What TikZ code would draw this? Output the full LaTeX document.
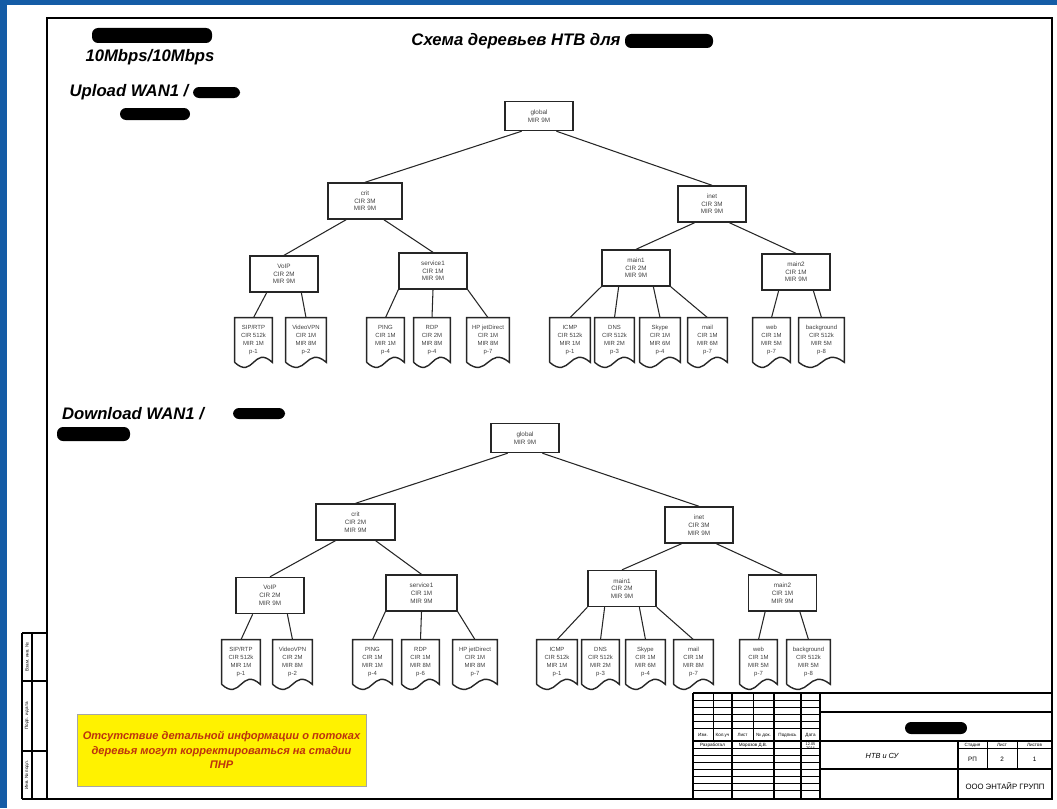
\documentclass[tikz,border=0pt]{standalone}
\usepackage{fontspec}
\setmainfont{Liberation Sans}
\usetikzlibrary{calc}
\definecolor{frameblue}{rgb}{0.08,0.36,0.65}
\definecolor{notered}{rgb}{0.74,0.2,0.05}

\newcommand{\leafshape}[1]{\draw[box] (#1.south west) -- (#1.north west) -- (#1.north east) -- (#1.south east)
  .. controls ($(#1.south)+(0,10pt)$) and ($(#1.south)+(0,-10pt)$) .. (#1.south west);}

\begin{document}
\begin{tikzpicture}[x=0.2mm, y=-0.2mm,
    box/.style={draw=black!85, line width=0.8pt},
    queue/.style={box, rectangle, minimum width=13.6mm, minimum height=7.2mm, inner sep=0.5pt, align=center, text=black!75, font=\fontsize{3.6}{4.4}\selectfont},
    leaf/.style={rectangle, minimum width=7.6mm, minimum height=8.8mm, inner sep=0.5pt, align=center, text=black!75, font=\fontsize{3.4}{4.4}\selectfont},
    link/.style={draw=black!85, line width=0.6pt},
    head/.style={font=\fontsize{9.5}{11}\selectfont\bfseries\itshape},
    blot/.style={fill=black, rounded corners=1.2mm},
    stamp/.style={font=\fontsize{2.6}{3}\selectfont, inner sep=0pt},
    fine/.style={line width=0.4pt},
    heavy/.style={line width=0.9pt}
]
    \useasboundingbox (0,0) rectangle (1057,808);
    \fill[frameblue] (0,0) rectangle (1057,5);
    \fill[frameblue] (0,0) rectangle (7,808);
    \draw[heavy] (47,18) rectangle (1052,799);

    % headings
    \node[head] (speed) at (150,57) {10Mbps/10Mbps};
    \node[head] (title) at (516,41) {Схема деревьев НТВ для};
    \node[head] (upload) at (129,92) {Upload WAN1 /};
    \node[head] (download) at (133,414) {Download WAN1 /};
    \fill[blot] (92,28) rectangle (212,43);
    \fill[blot] (625,34) rectangle (713,48);
    \fill[blot] (193,87) rectangle (240,98);
    \fill[blot] (120,108) rectangle (190,120);
    \fill[blot] (233,408) rectangle (285,419);
    \fill[blot] (57,427) rectangle (130,441);

    % upload tree
    \node[queue, minimum height=5.8mm] (uglobal) at (539,116) {global\\MIR 9M};
    \node[queue, minimum width=14.8mm] (ucrit) at (365,201) {crit\\CIR 3M\\MIR 9M};
    \node[queue] (uinet) at (712,204) {inet\\CIR 3M\\MIR 9M};
    \node[queue] (uvoip) at (284,274) {VoIP\\CIR 2M\\MIR 9M};
    \node[queue] (userv) at (433,271) {service1\\CIR 1M\\MIR 9M};
    \node[queue] (umain1) at (636,268) {main1\\CIR 2M\\MIR 9M};
    \node[queue] (umain2) at (796,272) {main2\\CIR 1M\\MIR 9M};
    \node[leaf, minimum width=7.4mm] (usip) at (253.5,340) {SIP/RTP\\CIR 512k\\MIR 1M\\p-1};
    \node[leaf, minimum width=8mm] (uvideo) at (306,340) {VideoVPN\\CIR 1M\\MIR 8M\\p-2};
    \node[leaf, minimum width=7.4mm] (uping) at (385.5,340) {PING\\CIR 1M\\MIR 1M\\p-4};
    \node[leaf, minimum width=7.2mm] (urdp) at (432,340) {RDP\\CIR 2M\\MIR 8M\\p-4};
    \node[leaf, minimum width=8.4mm] (uhp) at (488,340) {HP jetDirect\\CIR 1M\\MIR 8M\\p-7};
    \node[leaf, minimum width=8mm] (uicmp) at (570,340) {ICMP\\CIR 512k\\MIR 1M\\p-1};
    \node[leaf, minimum width=7.8mm] (udns) at (614.5,340) {DNS\\CIR 512k\\MIR 2M\\p-3};
    \node[leaf, minimum width=8mm] (uskype) at (660,340) {Skype\\CIR 1M\\MIR 6M\\p-4};
    \node[leaf, minimum width=7.8mm] (umail) at (707.5,340) {mail\\CIR 1M\\MIR 6M\\p-7};
    \node[leaf, minimum width=7.4mm] (uweb) at (771.5,340) {web\\CIR 1M\\MIR 5M\\p-7};
    \node[leaf, minimum width=9mm] (ubg) at (821.5,340) {background\\CIR 512k\\MIR 5M\\p-8};

    \foreach \p/\f/\c in {uglobal/.25/ucrit, uglobal/.75/uinet, ucrit/.25/uvoip, ucrit/.75/userv,
        uinet/.25/umain1, uinet/.75/umain2, uvoip/.25/usip, uvoip/.75/uvideo, userv/0/uping,
        userv/.5/urdp, userv/1/uhp, umain1/0/uicmp, umain1/.25/udns, umain1/.75/uskype,
        umain1/1/umail, umain2/.25/uweb, umain2/.75/ubg}
        \draw[link] ($(\p.south west)!\f!(\p.south east)$) -- (\c.north);

    % download tree
    \node[queue, minimum height=5.8mm] (dglobal) at (525,438) {global\\MIR 9M};
    \node[queue, minimum width=15.8mm] (dcrit) at (355.5,522) {crit\\CIR 2M\\MIR 9M};
    \node[queue] (dinet) at (699,525) {inet\\CIR 3M\\MIR 9M};
    \node[queue] (dvoip) at (270,595.5) {VoIP\\CIR 2M\\MIR 9M};
    \node[queue, minimum width=14.2mm] (dserv) at (421.5,593) {service1\\CIR 1M\\MIR 9M};
    \node[queue] (dmain1) at (622,588.5) {main1\\CIR 2M\\MIR 9M};
    \node[queue] (dmain2) at (782.5,593) {main2\\CIR 1M\\MIR 9M};
    \node[leaf] (dsip) at (241,662) {SIP/RTP\\CIR 512k\\MIR 1M\\p-1};
    \node[leaf, minimum width=7.8mm] (dvideo) at (292.5,662) {VideoVPN\\CIR 2M\\MIR 8M\\p-2};
    \node[leaf, minimum width=7.8mm] (dping) at (372.5,662) {PING\\CIR 1M\\MIR 1M\\p-4};
    \node[leaf, minimum width=7.4mm] (drdp) at (420.5,662) {RDP\\CIR 1M\\MIR 8M\\p-6};
    \node[leaf, minimum width=8.8mm] (dhp) at (475,662) {HP jetDirect\\CIR 1M\\MIR 8M\\p-7};
    \node[leaf, minimum width=8mm] (dicmp) at (557,662) {ICMP\\CIR 512k\\MIR 1M\\p-1};
    \node[leaf, minimum width=7.4mm] (ddns) at (600.5,662) {DNS\\CIR 512k\\MIR 2M\\p-3};
    \node[leaf, minimum width=7.8mm] (dskype) at (645.5,662) {Skype\\CIR 1M\\MIR 6M\\p-4};
    \node[leaf, minimum width=7.8mm] (dmail) at (693.5,662) {mail\\CIR 1M\\MIR 8M\\p-7};
    \node[leaf, minimum width=7.4mm] (dweb) at (758.5,662) {web\\CIR 1M\\MIR 5M\\p-7};
    \node[leaf, minimum width=8.6mm] (dbg) at (808.5,662) {background\\CIR 512k\\MIR 5M\\p-8};

    \foreach \p/\f/\c in {dglobal/.25/dcrit, dglobal/.75/dinet, dcrit/.25/dvoip, dcrit/.75/dserv,
        dinet/.25/dmain1, dinet/.75/dmain2, dvoip/.25/dsip, dvoip/.75/dvideo, dserv/0/dping,
        dserv/.5/drdp, dserv/1/dhp, dmain1/0/dicmp, dmain1/.25/ddns, dmain1/.75/dskype,
        dmain1/1/dmail, dmain2/.25/dweb, dmain2/.75/dbg}
        \draw[link] ($(\p.south west)!\f!(\p.south east)$) -- (\c.north);

    \foreach \n in {usip, uvideo, uping, urdp, uhp, uicmp, udns, uskype, umail, uweb, ubg,
        dsip, dvideo, dping, drdp, dhp, dicmp, ddns, dskype, dmail, dweb, dbg} {\leafshape{\n}}

    % note
    \node[draw=black!35, fill=yellow, minimum width=56.6mm, minimum height=14.4mm, align=center, text=notered,
        font=\fontsize{6.3}{8.2}\selectfont\bfseries\itshape] (note) at (221.5,750)
        {Отсутствие детальной информации о потоках\\деревья могут корректироваться на стадии\\ПНР};

    % side strip
    \draw[heavy] (22,633) -- (47,633) (22,681) -- (47,681) (22,751) -- (47,751) (22,799) -- (47,799)
        (22,633) -- (22,799) (32,633) -- (32,799);
    \node[stamp, rotate=90] (sswap) at (27,657) {Взам. инв. №};
    \node[stamp, rotate=90] (ssign) at (27,716) {Подп. и дата};
    \node[stamp, rotate=90] (sinv) at (27,775) {Инв. № подл.};

    % title block
    \draw[heavy] (693,693) -- (1052,693) (693,693) -- (693,799) (693,741) -- (1052,741)
        (820,693) -- (820,799) (820,712) -- (1052,712) (820,769) -- (1052,769) (958,741) -- (958,799)
        (732,693) -- (732,799) (774,693) -- (774,799) (801,693) -- (801,799);
    \draw[fine] (713,693) -- (713,741) (753,693) -- (753,741) (987,741) -- (987,769) (1017,741) -- (1017,769)
        (958,748) -- (1052,748);
    \foreach \y in {700,707,714,721,728,748,755,762,769,776,783,790}
        \draw[fine] (693,\y) -- (820,\y);
    \fill[blot] (905,722) rectangle (967,734);
    \node[stamp] (tizm) at (703,735) {Изм.};
    \node[stamp] (tkol) at (722.5,735) {Кол.уч};
    \node[stamp] (tlist) at (742.5,735) {Лист};
    \node[stamp] (tdoc) at (763.5,735) {№ док.};
    \node[stamp] (tsign) at (787.5,735) {Подпись};
    \node[stamp] (tdate) at (810.5,735) {Дата};
    \node[stamp] (tdev) at (712.5,745) {Разработал};
    \node[stamp] (tname) at (753,745) {Морозов Д.В.};
    \node[stamp, font=\fontsize{2.2}{2.6}\selectfont, align=center] (tday) at (810.5,746) {12.05\\2014};
    \node[stamp, font=\fontsize{4.2}{5}\selectfont\itshape] (tsys) at (882,756) {НТВ и СУ};
    \node[stamp] (tstage) at (972.5,745) {Стадия};
    \node[stamp] (tsheet) at (1002,745) {Лист};
    \node[stamp] (tsheets) at (1034.5,745) {Листов};
    \node[stamp, font=\fontsize{3.6}{4}\selectfont] (vstage) at (972.5,759) {РП};
    \node[stamp, font=\fontsize{3.6}{4}\selectfont] (vsheet) at (1002,759) {2};
    \node[stamp, font=\fontsize{3.6}{4}\selectfont] (vsheets) at (1034.5,759) {1};
    \node[stamp, font=\fontsize{4.4}{5}\selectfont] (tfirm) at (1005,786) {ООО ЭНТАЙР ГРУПП};
\end{tikzpicture}
\end{document}
